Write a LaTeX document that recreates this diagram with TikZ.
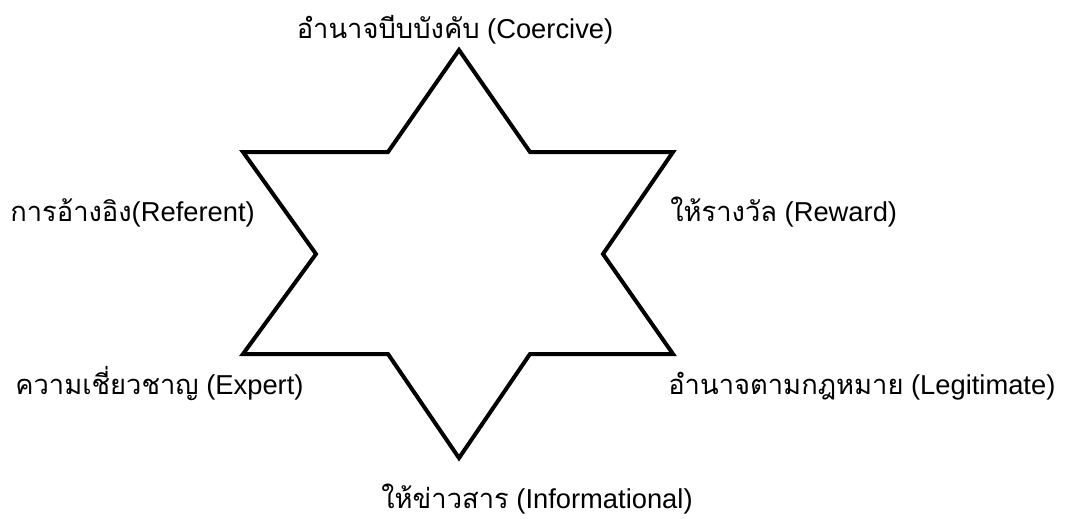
\documentclass[tikz,border=0pt]{standalone}
\usepackage{fontspec}
\setmainfont{Liberation Sans}
\newfontfamily\thaifont[Script=Thai]{Loma}
\begin{document}
\begin{tikzpicture}[x=0.75pt, y=-0.75pt, every node/.style={font=\fontsize{20.5}{24}\selectfont, inner sep=0pt}]
  \useasboundingbox (0,0) rectangle (1067,518);
  % star outline
  \draw[line width=3pt, line join=miter] (459,50) -- (530,152) -- (673,152) -- (603,254) -- (673,354) -- (530,354)
    -- (459,458) -- (388,354) -- (243,354) -- (316,254) -- (243,152) -- (388,152) -- cycle;
  % labels
  \node[anchor=base] (coercive) at (455,38) {{\thaifont อำนาจบีบบังคับ} (Coercive)};
  \node[anchor=base west] (referent) at (10,221) {{\thaifont การอ้างอิง}(Referent)};
  \node[anchor=base west] (reward) at (670,221) {{\thaifont ให้รางวัล} (Reward)};
  \node[anchor=base west] (expert) at (15,394) {{\thaifont ความเชี่ยวชาญ} (Expert)};
  \node[anchor=base west] (legit) at (668,394) {{\thaifont อำนาจตามกฎหมาย} (Legitimate)};
  \node[anchor=base] (inform) at (537,508) {{\thaifont ให้ข่าวสาร} (Informational)};
\end{tikzpicture}
\end{document}
